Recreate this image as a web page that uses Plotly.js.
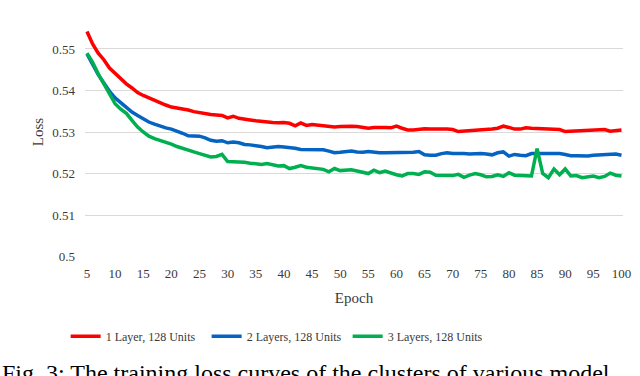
<!DOCTYPE html>
<html>
<head>
<meta charset="utf-8">
<script src="https://cdn.plot.ly/plotly-3.0.1.min.js"></script>
<style>html,body{margin:0;padding:0;background:#fff;overflow:hidden}#chart{width:640px;height:376px}</style>
</head>
<body>
<div id="chart"></div>
<script>
const epochs = [];
for (let e = 5; e <= 100; e++) epochs.push(e);

const seriesNames = ["1 Layer, 128 Units", "2 Layers, 128 Units", "3 Layers, 128 Units"];

const loss1Layer = [
  0.5542,0.5512,0.5490,0.5474,0.5454,0.5441,0.5428,0.5416,0.5406,0.5395,
  0.5388,0.5382,0.5375,0.5369,0.5365,0.5360,0.5358,0.5356,0.5353,0.5349,
  0.5346,0.5344,0.5342,0.5341,0.5340,0.5334,0.5338,0.5333,0.5330,0.5329,
  0.5327,0.5325,0.5324,0.5323,0.5322,0.5323,0.5321,0.5315,0.5322,0.5316,
  0.5318,0.5316,0.5315,0.5314,0.5312,0.5313,0.5314,0.5314,0.5313,0.5311,
  0.5309,0.5311,0.5312,0.5311,0.5310,0.5314,0.5309,0.5305,0.5305,0.5307,
  0.5308,0.5307,0.5306,0.5307,0.5307,0.5306,0.5301,0.5302,0.5303,0.5304,
  0.5303,0.5305,0.5307,0.5309,0.5314,0.5311,0.5307,0.5307,0.5310,0.5309,
  0.5308,0.5307,0.5307,0.5307,0.5306,0.5301,0.5302,0.5303,0.5302,0.5303,
  0.5304,0.5306,0.5306,0.5302,0.5304,0.5305
];

const loss2Layers = [
  0.5488,0.5462,0.5438,0.5418,0.5398,0.5382,0.5370,0.5358,0.5348,0.5340,
  0.5332,0.5324,0.5319,0.5314,0.5310,0.5307,0.5303,0.5297,0.5291,0.5290,
  0.5290,0.5286,0.5280,0.5278,0.5279,0.5274,0.5276,0.5274,0.5270,0.5269,
  0.5268,0.5265,0.5262,0.5264,0.5265,0.5264,0.5263,0.5261,0.5258,0.5258,
  0.5257,0.5256,0.5257,0.5254,0.5250,0.5251,0.5252,0.5254,0.5252,0.5251,
  0.5253,0.5251,0.5250,0.5250,0.5250,0.5250,0.5249,0.5250,0.5251,0.5253,
  0.5245,0.5244,0.5244,0.5248,0.5250,0.5248,0.5249,0.5248,0.5247,0.5248,
  0.5248,0.5247,0.5245,0.5250,0.5252,0.5242,0.5246,0.5244,0.5243,0.5248,
  0.5248,0.5247,0.5247,0.5249,0.5248,0.5246,0.5243,0.5243,0.5242,0.5242,
  0.5244,0.5245,0.5244,0.5245,0.5247,0.5244
];

const loss3Layers = [
  0.5490,0.5468,0.5440,0.5417,0.5392,0.5368,0.5355,0.5345,0.5328,0.5312,
  0.5300,0.5290,0.5284,0.5280,0.5276,0.5271,0.5265,0.5260,0.5256,0.5252,
  0.5248,0.5243,0.5240,0.5241,0.5246,0.5229,0.5229,0.5228,0.5227,0.5225,
  0.5223,0.5222,0.5224,0.5220,0.5218,0.5219,0.5212,0.5215,0.5219,0.5215,
  0.5214,0.5213,0.5210,0.5204,0.5212,0.5207,0.5208,0.5209,0.5206,0.5202,
  0.5200,0.5208,0.5202,0.5206,0.5201,0.5197,0.5194,0.5200,0.5200,0.5198,
  0.5204,0.5203,0.5196,0.5196,0.5195,0.5195,0.5198,0.5191,0.5196,0.5200,
  0.5197,0.5192,0.5193,0.5197,0.5193,0.5202,0.5196,0.5195,0.5195,0.5194,
  0.5260,0.5200,0.5190,0.5211,0.5197,0.5211,0.5194,0.5195,0.5190,0.5192,
  0.5194,0.5190,0.5193,0.5201,0.5196,0.5194
];

const xTickVals = [5,10,15,20,25,30,35,40,45,50,55,60,65,70,75,80,85,90,95,100];
const yTickVals = [0.5,0.51,0.52,0.53,0.54,0.55,0.56];
const captionText = "Fig. 3: The training loss curves of the clusters of various model";

const colors = ["#ff0000", "#0563c1", "#00b050"];
const allSeries = [loss1Layer, loss2Layers, loss3Layers];

const traces = allSeries.map((ys, i) => ({
  x: epochs, y: ys, type: "scatter", mode: "lines", name: seriesNames[i],
  line: {color: colors[i], width: 3.5, shape: "linear"}
}));

const serif = "Liberation Serif, Times New Roman, serif";
const txt = "#3a3a3a";

const layout = {
  width: 640, height: 376,
  margin: {l: 85, r: 17, t: 7, b: 119, pad: 0},
  paper_bgcolor: "#fff", plot_bgcolor: "#fff",
  font: {family: serif, color: txt, size: 13},
  showlegend: true,
  legend: {
    orientation: "h", x: -0.036, xanchor: "left", y: -0.317, yanchor: "middle",
    font: {family: serif, size: 12, color: txt}, itemwidth: 30, traceorder: "normal",
    entrywidth: 96, entrywidthmode: "pixels"
  },
  xaxis: {
    range: [4.65, 100.27], tickvals: xTickVals, ticktext: xTickVals.map(String),
    showgrid: false, zeroline: false, showline: false, ticks: "", ticklabelstandoff: 7,
    tickfont: {family: serif, size: 13, color: txt},
    title: {text: "Epoch", font: {family: serif, size: 15, color: txt}, standoff: 12}
  },
  yaxis: {
    range: [0.4999, 0.5601], tickvals: yTickVals, ticktext: yTickVals.map(v => String(v)),
    showgrid: true, gridcolor: "#d9d9d9", gridwidth: 1, zeroline: false, showline: false, ticks: "",
    ticklabelstandoff: 9,
    tickfont: {family: serif, size: 13, color: txt},
    title: {text: "Loss", font: {family: serif, size: 15, color: txt}, standoff: 5}
  },
  annotations: [{
    text: captionText, xref: "paper", yref: "paper", x: -0.158, y: -0.405,
    xanchor: "left", yanchor: "top", showarrow: false,
    font: {family: serif, size: 24, color: "#000"}
  }]
};

Plotly.newPlot("chart", traces, layout, {displayModeBar: false, staticPlot: true});
</script>
</body>
</html>
